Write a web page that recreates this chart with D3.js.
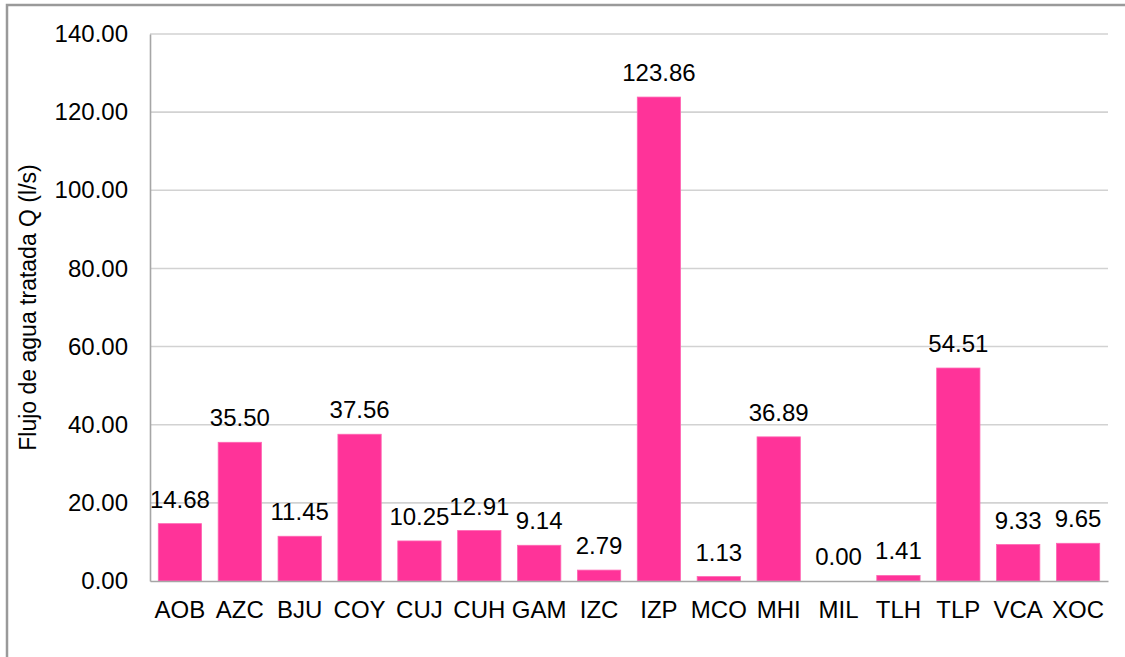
<!DOCTYPE html>
<html>
<head>
<meta charset="utf-8">
<script src="https://cdn.jsdelivr.net/npm/d3@7"></script>
<style>
  body { margin: 0; background: #fff; }
  text { font-family: "Liberation Sans", Arial, sans-serif; fill: #000; }
</style>
</head>
<body>
<svg id="graph"></svg>
<script>
var categories = ["AOB","AZC","BJU","COY","CUJ","CUH","GAM","IZC","IZP","MCO","MHI","MIL","TLH","TLP","VCA","XOC"];
var values = [14.68, 35.50, 11.45, 37.56, 10.25, 12.91, 9.14, 2.79, 123.86, 1.13, 36.89, 0.00, 1.41, 54.51, 9.33, 9.65];
var yTicks = [0, 20, 40, 60, 80, 100, 120, 140];
var yTitle = "Flujo de agua tratada Q (l/s)";

var svg = d3.select("#graph")
    .attr("width", 1125)
    .attr("height", 657);

// outer frame (only top/left visible in the picture)
svg.append("rect")
    .attr("x", 7).attr("y", 5)
    .attr("width", 1130).attr("height", 660)
    .attr("fill", "none")
    .attr("stroke", "#9a9a9a")
    .attr("stroke-width", 2.5);

var margin = {top: 34, left: 150},
    width = 958,
    height = 547;

var x = d3.scaleBand().domain(categories).range([0, width]).paddingInner(0.277).paddingOuter(0.1385),
    y = d3.scaleLinear().domain([0, 140]).range([height, 0]);

var g = svg.append("g")
    .attr("transform", "translate(" + margin.left + "," + margin.top + ")");

// gridlines
g.append("g")
  .selectAll("line")
  .data(yTicks.filter(function(d) { return d > 0; }))
  .enter().append("line")
    .attr("x1", 0).attr("x2", width)
    .attr("y1", function(d) { return y(d); })
    .attr("y2", function(d) { return y(d); })
    .attr("stroke", "#d2d2d2")
    .attr("stroke-width", 1.6);

// y axis
var yaxis = g.append("g")
    .call(d3.axisLeft(y).tickValues(yTicks).tickSize(0).tickPadding(22).tickFormat(d3.format(".2f")));
yaxis.select(".domain").attr("stroke", "#a6a6a6").attr("stroke-width", 1.6);
yaxis.selectAll("text").attr("font-size", 24).attr("font-family", "Liberation Sans, Arial, sans-serif");

// bars
g.selectAll(".bar")
  .data(values)
  .enter().append("rect")
    .attr("class", "bar")
    .attr("x", function(d, i) { return x(categories[i]); })
    .attr("y", function(d) { return y(d); })
    .attr("width", x.bandwidth())
    .attr("height", function(d) { return height - y(d); })
    .attr("fill", "#ff3399")
    .attr("stroke", "#ff66b3")
    .attr("stroke-width", 0.8);

// value labels
g.selectAll(".lbl")
  .data(values)
  .enter().append("text")
    .attr("class", "lbl")
    .attr("x", function(d, i) { return x(categories[i]) + x.bandwidth() / 2; })
    .attr("y", function(d) { return y(d) - 16; })
    .attr("text-anchor", "middle")
    .attr("font-size", 24)
    .text(function(d) { return d3.format(".2f")(d); });

// x axis
var xaxis = g.append("g")
    .attr("transform", "translate(0," + height + ")")
    .call(d3.axisBottom(x).tickSize(0).tickPadding(20));
xaxis.select(".domain").attr("stroke", "#a6a6a6").attr("stroke-width", 1.6);
xaxis.selectAll("text").attr("font-size", 24).attr("font-family", "Liberation Sans, Arial, sans-serif");

// y title
svg.append("text")
    .attr("transform", "translate(36," + (margin.top + height / 2) + ") rotate(-90)")
    .attr("text-anchor", "middle")
    .attr("font-size", 23)
    .text(yTitle);
</script>
</body>
</html>
